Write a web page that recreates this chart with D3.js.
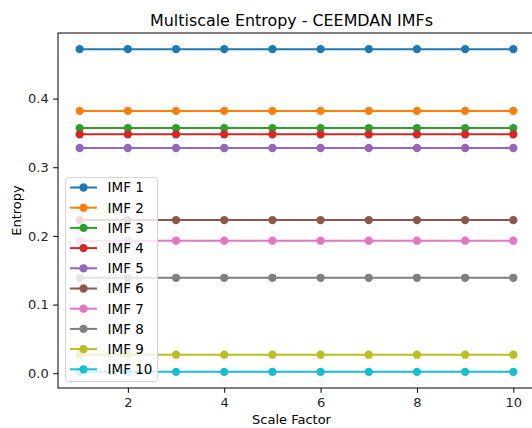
<!DOCTYPE html>
<html>
<head>
<script src="https://d3js.org/d3.v7.min.js"></script>
<style>
  body { margin: 0; background: #fff; }
  svg { font-family: "DejaVu Sans", sans-serif; display: block; }
</style>
</head>
<body>
<div id="chart"></div>
<script>
// Data
const scales = [1, 2, 3, 4, 5, 6, 7, 8, 9, 10];
const imfNames = ["IMF 1", "IMF 2", "IMF 3", "IMF 4", "IMF 5", "IMF 6", "IMF 7", "IMF 8", "IMF 9", "IMF 10"];
const imfEntropy = [0.472, 0.382, 0.357, 0.348, 0.328, 0.223, 0.193, 0.139, 0.027, 0.002];
const colors = ["#1f77b4", "#ff7f0e", "#2ca02c", "#d62728", "#9467bd",
                "#8c564b", "#e377c2", "#7f7f7f", "#bcbd22", "#17becf"];
const xTicks = [2, 4, 6, 8, 10];
const yTicks = [0.0, 0.1, 0.2, 0.3, 0.4];

const W = 532, H = 428;
const margin = {top: 33, right: -3, bottom: 40, left: 58};
const width = W - margin.left - margin.right;
const height = H - margin.top - margin.bottom;

const svg = d3.select("#chart").append("svg")
    .attr("width", W).attr("height", H);

const g = svg.append("g")
    .attr("transform", `translate(${margin.left},${margin.top})`);

// matplotlib style 5% margins
const xPad = (d3.max(scales) - d3.min(scales)) * 0.05;
const x = d3.scaleLinear()
    .domain([d3.min(scales) - xPad, d3.max(scales) + xPad])
    .range([0, width]);
const yPad = (d3.max(imfEntropy) - d3.min(imfEntropy)) * 0.05;
const y = d3.scaleLinear()
    .domain([d3.min(imfEntropy) - yPad, d3.max(imfEntropy) + yPad])
    .range([height, 0]);

const series = imfNames.map((name, i) => ({
    name,
    color: colors[i],
    values: scales.map(s => ({s, v: imfEntropy[i]}))
}));

const line = d3.line().x(d => x(d.s)).y(d => y(d.v));

// lines + markers
series.forEach(sr => {
    g.append("path")
        .datum(sr.values)
        .attr("d", line)
        .attr("fill", "none")
        .attr("stroke", sr.color)
        .attr("stroke-width", 2);
    g.selectAll(null)
        .data(sr.values)
        .join("circle")
        .attr("cx", d => x(d.s))
        .attr("cy", d => y(d.v))
        .attr("r", 4.15)
        .attr("fill", sr.color);
});

// axes
const xAxis = g.append("g")
    .attr("transform", `translate(0,${height})`)
    .call(d3.axisBottom(x).tickValues(xTicks).tickSize(4.8).tickPadding(4.5).tickFormat(d3.format("d")));
const yAxis = g.append("g")
    .call(d3.axisLeft(y).tickValues(yTicks).tickSize(4.8).tickPadding(4.5).tickFormat(d3.format(".1f")));
[xAxis, yAxis].forEach(a => {
    a.selectAll("text").attr("font-size", 13).attr("fill", "#262626")
        .attr("font-family", "DejaVu Sans, sans-serif");
    a.selectAll("line").attr("stroke", "#000").attr("stroke-width", 1);
    a.select(".domain").remove();
});

// spines
g.append("rect")
    .attr("x", 0).attr("y", 0)
    .attr("width", width).attr("height", height)
    .attr("fill", "none").attr("stroke", "#000").attr("stroke-width", 1);

// title & labels
svg.append("text")
    .attr("x", margin.left + width / 2 - 5).attr("y", 25.5)
    .attr("text-anchor", "middle")
    .attr("font-size", 15.9).attr("fill", "#000")
    .text("Multiscale Entropy - CEEMDAN IMFs");
svg.append("text")
    .attr("x", margin.left + width / 2 - 5).attr("y", 424)
    .attr("text-anchor", "middle")
    .attr("font-size", 13).attr("fill", "#000")
    .text("Scale Factor");
svg.append("text")
    .attr("transform", `translate(21,${margin.top + height / 2}) rotate(-90)`)
    .attr("text-anchor", "middle")
    .attr("font-size", 13).attr("fill", "#000")
    .text("Entropy");

// legend
const lg = svg.append("g").attr("transform", "translate(65,177)");
lg.append("rect")
    .attr("x", 0.5).attr("y", 0.5)
    .attr("width", 92).attr("height", 204)
    .attr("rx", 3)
    .attr("fill", "#fff").attr("fill-opacity", 0.8)
    .attr("stroke", "#d5d5d5").attr("stroke-width", 1);
series.forEach((sr, i) => {
    const yy = 10.5 + i * 20.2;
    lg.append("line")
        .attr("x1", 5).attr("x2", 32).attr("y1", yy).attr("y2", yy)
        .attr("stroke", sr.color).attr("stroke-width", 2);
    lg.append("circle")
        .attr("cx", 18.5).attr("cy", yy).attr("r", 4.15).attr("fill", sr.color);
    lg.append("text")
        .attr("x", 42.5).attr("y", yy + 4.8)
        .attr("font-size", 13.5).attr("fill", "#000")
        .text(sr.name);
});
</script>
</body>
</html>
